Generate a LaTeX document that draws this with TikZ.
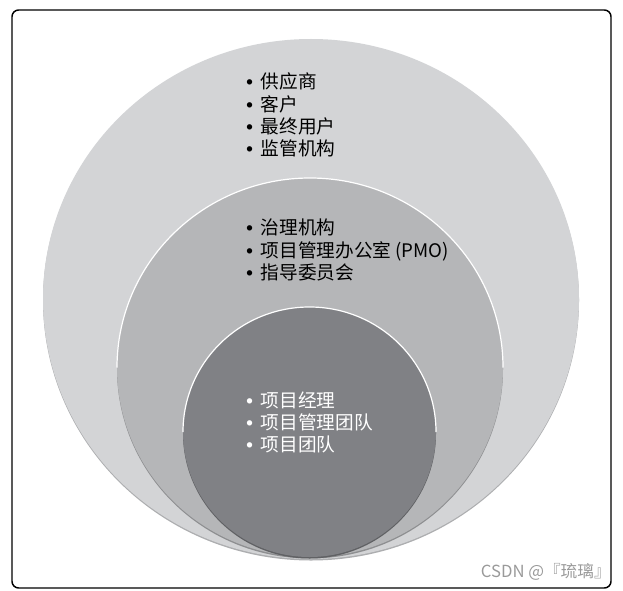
\documentclass[tikz,border=0pt]{standalone}
\usepackage{fontspec}
\setmainfont{Noto Sans CJK SC}
\newfontfamily\dotfont{Liberation Sans}
\newcommand\itemdot{{\dotfont\bfseries •}\hspace{6pt}}
\usetikzlibrary{positioning}

\definecolor{ringout}{HTML}{D3D4D6}
\definecolor{ringmid}{HTML}{B5B6B8}
\definecolor{ringin}{HTML}{808185}
\definecolor{shadeout}{HTML}{ADAEB0}
\definecolor{shademid}{HTML}{8E8F91}
\definecolor{shadein}{HTML}{606164}
\definecolor{markgray}{HTML}{9A9A9A}

\begin{document}
\begin{tikzpicture}[
  x=0.75pt, y=0.75pt,
  list/.style={anchor=west, inner sep=0pt, align=left,
    font=\fontsize{14}{16.7}\selectfont},
  rim/.style={white, line width=0.9pt}
]
\useasboundingbox (0,0) rectangle (623,590);
\draw[line width=1.1pt, rounded corners=5pt] (12,2) rectangle (611,580);
% three rings touching at the bottom; each one gets a dark shadow drawn
% a little lower first, then the fill, then a white rim on its top half
\fill[shadeout] (311,289.5) ellipse[x radius=268, y radius=260];
\fill[ringout]  (311,291)   ellipse[x radius=268, y radius=260];
\fill[shademid] (310,221)   ellipse[x radius=193, y radius=189.5];
\fill[ringmid]  (310,222.5) ellipse[x radius=193, y radius=189.5];
\draw[rim] (503,222.5) arc[start angle=0, end angle=180, x radius=193, y radius=189.5];
\fill[shadein]  (309.5,156.5) ellipse[x radius=126.5, y radius=125];
\fill[ringin]   (309.5,158)   ellipse[x radius=126.5, y radius=125];
\draw[rim] (436,158) arc[start angle=0, end angle=180, x radius=126.5, y radius=125];
\node[list] (outerlist) at (246,475)
  {\itemdot 供应商\\\itemdot 客户\\\itemdot 最终用户\\\itemdot 监管机构};
\node[list] (midlist) at (246,340)
  {\itemdot 治理机构\\\itemdot 项目管理办公室 (PMO)\\\itemdot 指导委员会};
\node[list, text=white] (innerlist) at (246,167.5)
  {\itemdot 项目经理\\\itemdot 项目管理团队\\\itemdot 项目团队};
\node[anchor=east, inner sep=0pt, text=markgray,
  font=\fontsize{12.5}{14}\selectfont] (mark) at (611,18) {CSDN @『琉璃』};
\end{tikzpicture}
\end{document}
